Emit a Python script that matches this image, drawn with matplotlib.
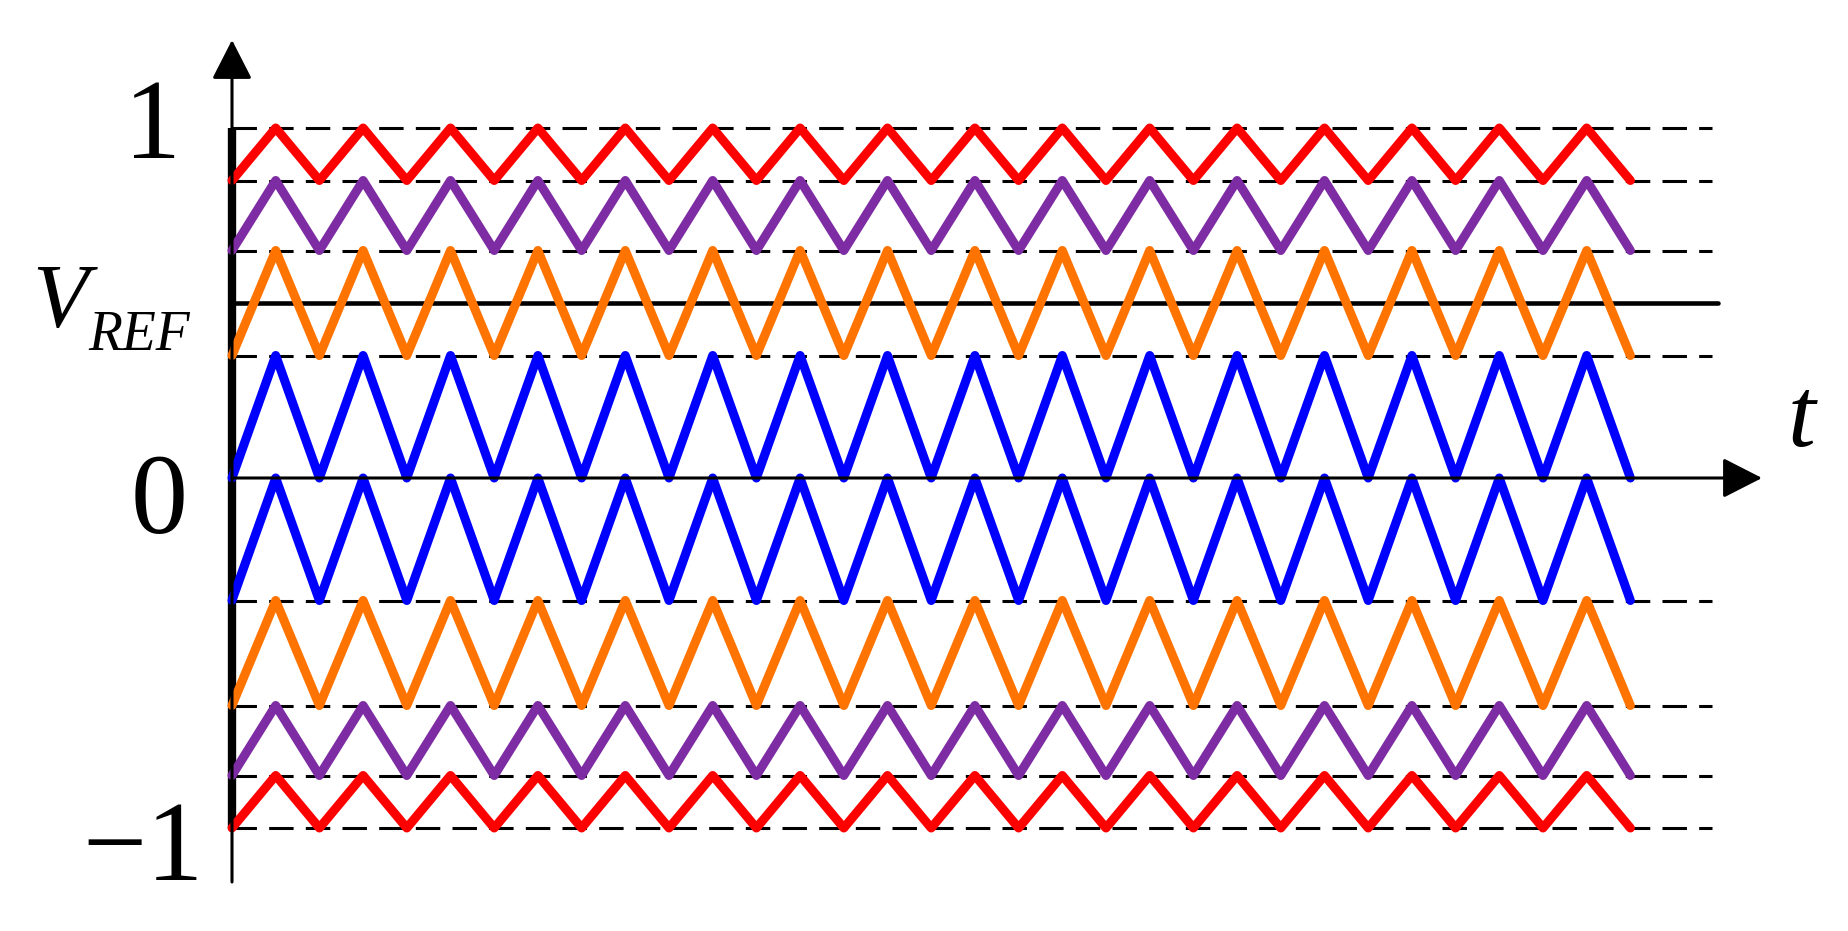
import numpy as np
import matplotlib
matplotlib.use('Agg')
import matplotlib.pyplot as plt

# Data
##############################################################################
band_low = [0.85, 0.65, 0.35, 0.0, -0.35, -0.65, -0.85, -1.0]
band_high = [1.0, 0.85, 0.65, 0.35, 0.0, -0.35, -0.65, -0.85]
band_colors = ['#FF0000', '#7E2CA3', '#FF7300', '#0000FF',
               '#0000FF', '#FF7300', '#7E2CA3', '#FF0000']
dash_levels = [1.0, 0.85, 0.65, 0.35, -0.35, -0.65, -0.85, -1.0]
v_ref = 0.5
n_periods = 16            # carrier periods shown
tick_labels = {1: '1', 0: '0', -1: '\u22121'}

# pixel layout of the original figure (1848 x 931)
W, H = 1848, 931
x0_px, period_px = 232, 87.4     # t = 0 and one carrier period
y0_px, unit_px = 478, 350        # v = 0 and one unit

# Figure
##############################################################################
plt.rcParams['font.family'] = ['Liberation Serif', 'DejaVu Serif']
fig = plt.figure(figsize=(W / 100, H / 100), dpi=100)
ax = fig.add_axes([0, 0, 1, 1])
ax.set_xlim(-x0_px / period_px, (W - x0_px) / period_px)
ax.set_ylim(-(H - y0_px) / unit_px, y0_px / unit_px)
ax.axis('off')

# dashed band boundaries
for lev in dash_levels:
    ax.plot([0, 16.93], [lev, lev], color='k', lw=2.2,
            linestyle=(0, (8, 4)), zorder=1)

# reference voltage
ax.plot([0, 17.0], [v_ref, v_ref], color='k', lw=3.3,
        solid_capstyle='round', zorder=2)

# thick left bar spanning -1..1
ax.plot([0, 0], [-1, 1], color='k', lw=6.0, solid_capstyle='butt', zorder=3)

# triangular carriers, all in phase, starting at a trough
t_vertex = np.arange(0, n_periods + 0.25, 0.5)
for lo, hi, c in zip(band_low, band_high, band_colors):
    v = np.where(np.arange(len(t_vertex)) % 2 == 0, lo, hi)
    ax.plot(t_vertex, v, color=c, lw=6.5, solid_capstyle='round',
            solid_joinstyle='round', zorder=4)

# axes with arrows
arrow = dict(arrowstyle='-|>,head_length=24.5,head_width=12.5',
             mutation_scale=1, color='k', lw=2.2, shrinkA=0, shrinkB=0)
ax.annotate('', xy=(0, (y0_px - 40) / unit_px),
            xytext=(0, (y0_px - 882) / unit_px), arrowprops=arrow, zorder=5)
ax.annotate('', xy=((1762 - x0_px) / period_px, 0),
            xytext=(0, 0), arrowprops=arrow, zorder=5)

# labels
fig.text(153 / W, 1 - 158 / H, tick_labels[1], fontsize=82,
         ha='center', va='baseline')
fig.text(159 / W, 1 - 533 / H, tick_labels[0], fontsize=82,
         ha='center', va='baseline')
fig.text(143 / W, 1 - 880 / H, tick_labels[-1], fontsize=82,
         ha='center', va='baseline')
fig.text(32 / W, 1 - 327 / H, 'V', fontsize=66, style='italic',
         ha='left', va='baseline')
fig.text(88 / W, 1 - 350 / H, 'REF', fontsize=40, style='italic',
         ha='left', va='baseline')
fig.text(1801 / W, 1 - 446 / H, 't', fontsize=72, style='italic',
         ha='center', va='baseline')

fig.savefig('out.png', dpi=100)
